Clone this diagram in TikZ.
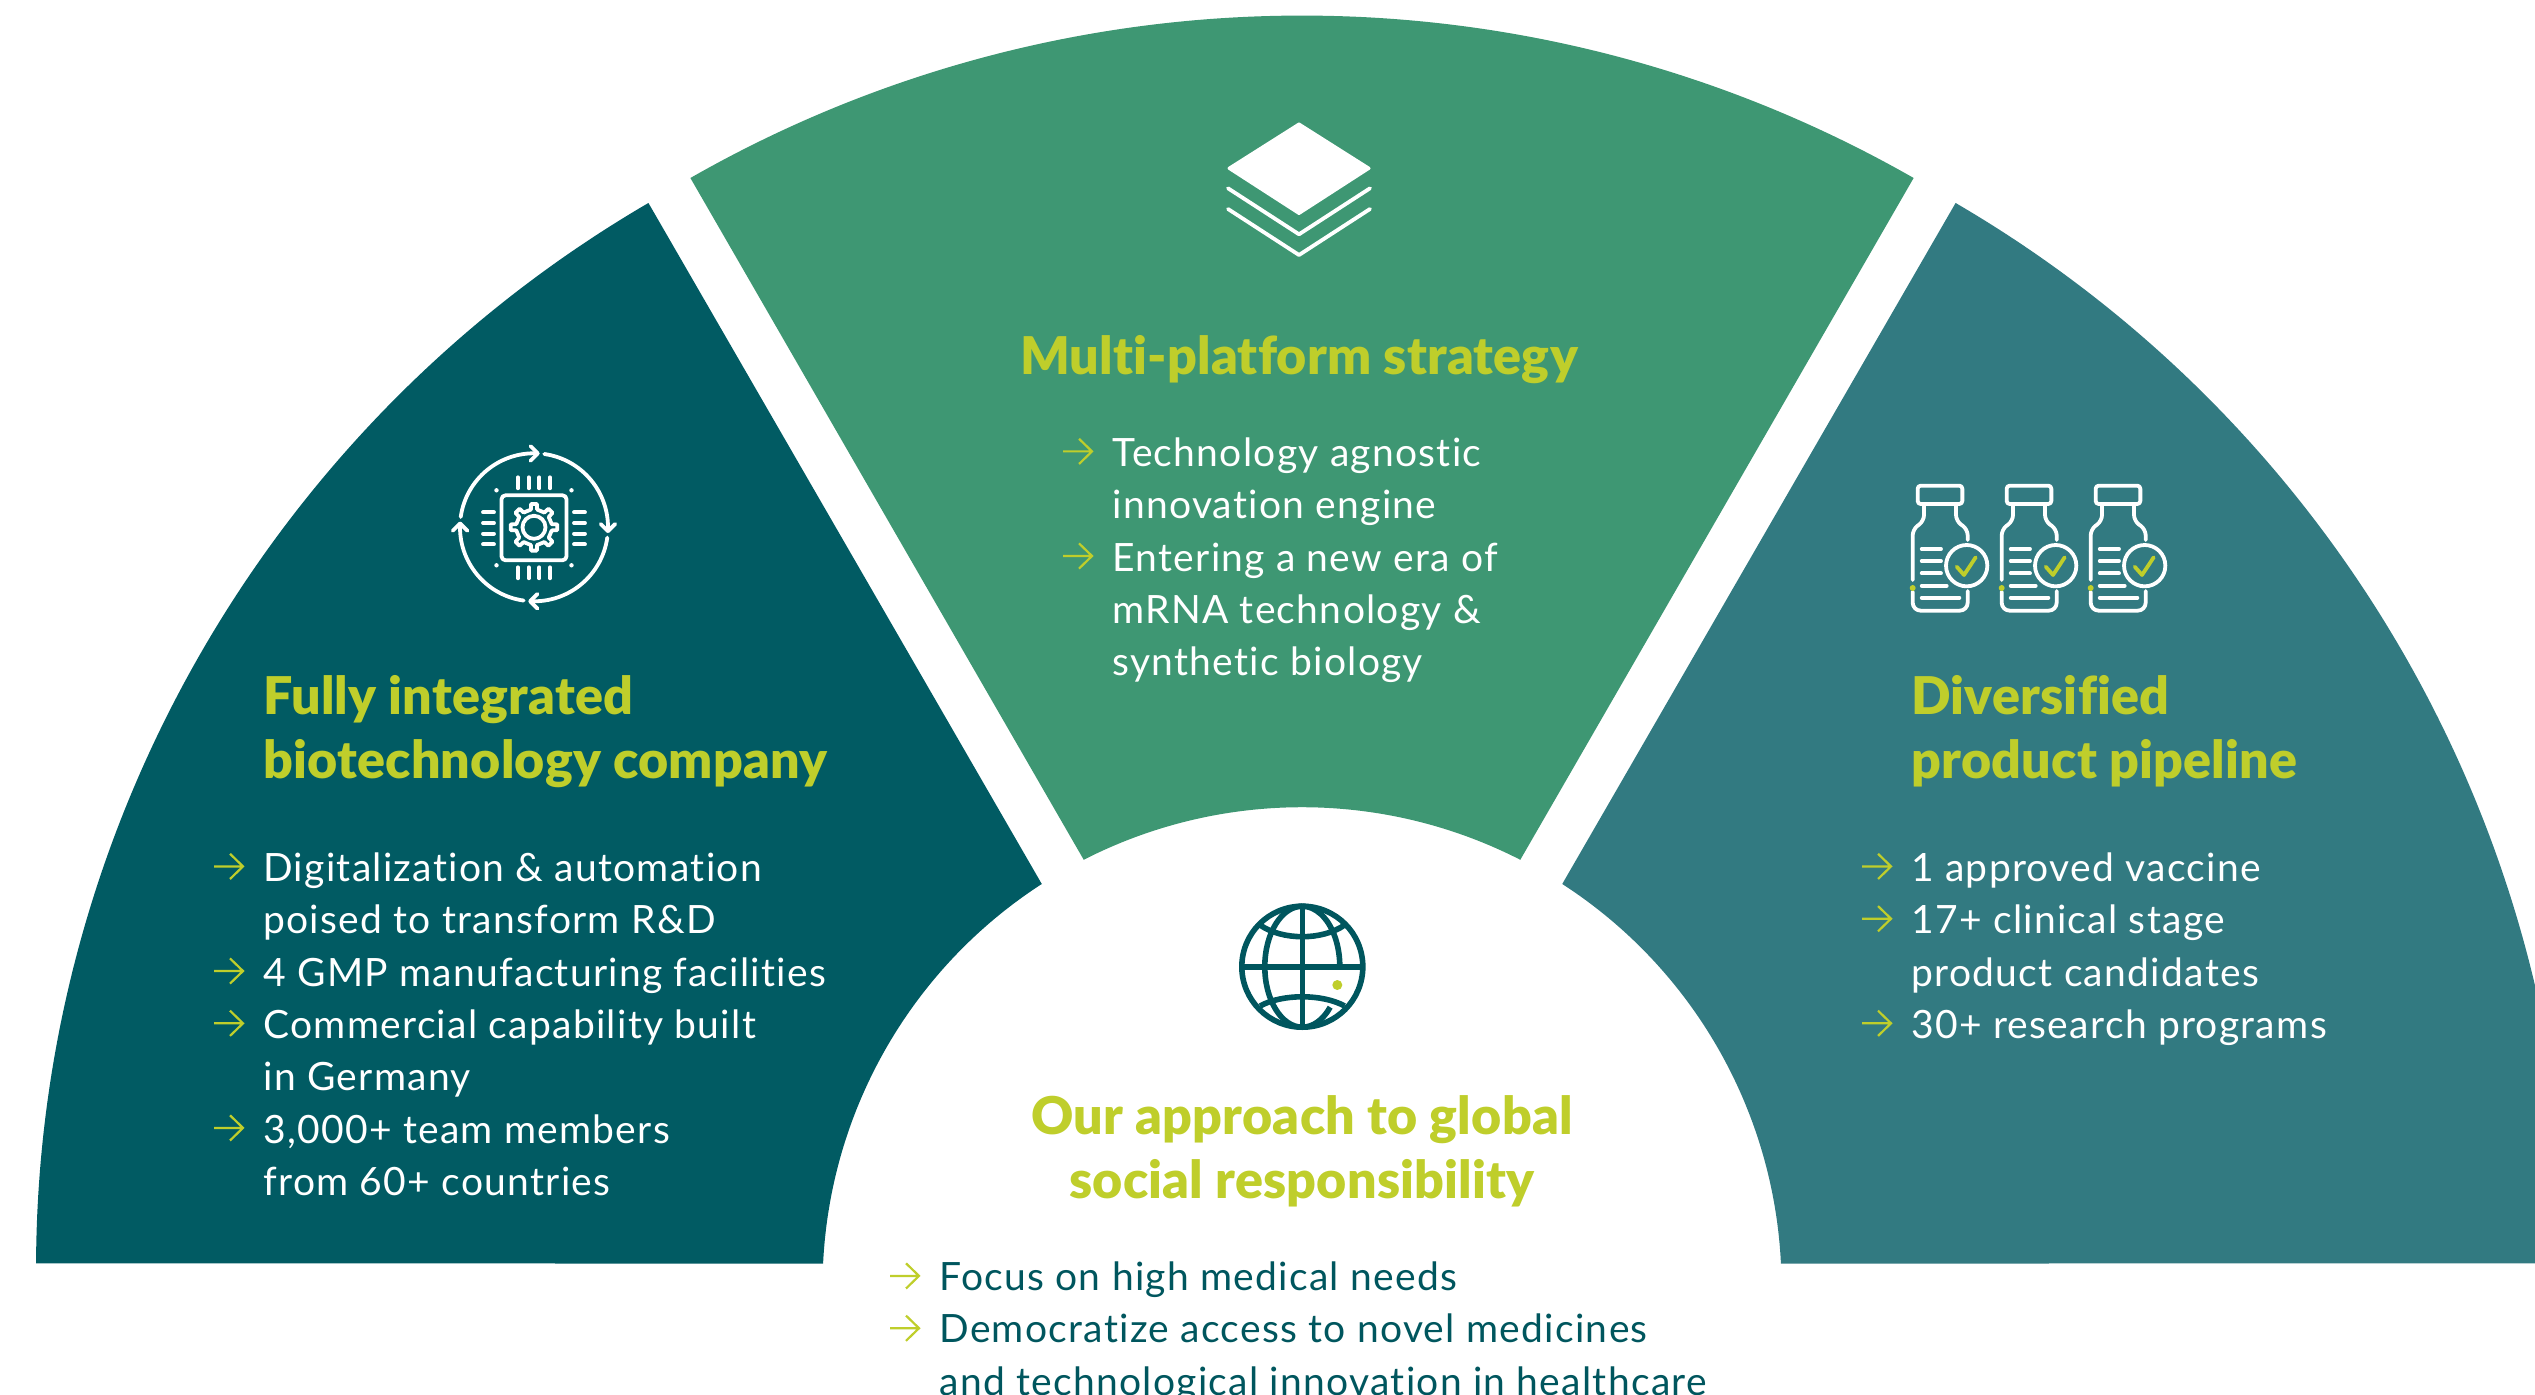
\documentclass[tikz,border=0pt]{standalone}
\usepackage{fontspec}
\usetikzlibrary{calc}
\setmainfont{Lato}[LetterSpace=3.3,Ligatures={NoCommon}]
\newfontfamily\headfont{Lato Black}[LetterSpace=0.4,Ligatures={NoCommon}]
\definecolor{tealdark}{HTML}{015B63}
\definecolor{greenmid}{HTML}{3E9773}
\definecolor{tealmid}{HTML}{327A81}
\definecolor{limeacc}{HTML}{BFCE2B}
\definecolor{inktext}{HTML}{00565E}
\tikzset{
  bodytext/.style={font=\fontsize{19.5}{26}\selectfont,anchor=base west,inner sep=0pt,white},
  inktxt/.style={bodytext,text=inktext},
  headtext/.style={font=\headfont\fontsize{26}{32}\selectfont,anchor=base west,inner sep=0pt,text=limeacc},
  headcenter/.style={headtext,anchor=base},
  icon/.style={draw=white,line width=1.9pt,line cap=round,line join=round},
  bulletarrow/.style={draw=limeacc,line width=1.1pt,line join=miter},
}
\newcommand{\lefttext}[1]{\vtop{\baselineskip=26.15pt\lineskiplimit=-100pt\halign{##\hfil\cr #1\crcr}}}
\newcommand{\headleft}[1]{\vtop{\baselineskip=32.4pt\lineskiplimit=-100pt\halign{##\hfil\cr #1\crcr}}}
\newcommand{\headmid}[1]{\vtop{\baselineskip=32.4pt\lineskiplimit=-100pt\halign{\hfil##\hfil\cr #1\crcr}}}
\newcommand{\bul}[3]{%
  \pgfmathsetmacro{\by}{-#2-#3*52.3+12.6}%
  \draw[bulletarrow] (#1,\by) -- ++(29,0) ++(-13,12.6) -- ++(13,-12.6) -- ++(-13,-12.6);}
\begin{document}
\begin{tikzpicture}[x=0.5pt,y=0.5pt]
\useasboundingbox (0,0) rectangle (2535,-1395);
\clip (0,0) rectangle (2535,-1395);
\coordinate (C) at (1302,-1286.7);
\coordinate (CL) at (1270.1,-1269);
\coordinate (CT) at (1302,-1248.1);
\coordinate (CR) at (1333.9,-1269);
% sectors
\fill[tealdark] ([shift={(CL)}]179.74:1234.1) arc[start angle=179.74,end angle=120.25,radius=1234.1]
  -- ([shift={(C)}]122.87:479.5) arc[start angle=122.87,end angle=177.23,radius=479.5] -- cycle;
\fill[greenmid] ([shift={(CT)}]119.75:1232.6) arc[start angle=119.75,end angle=60.25,radius=1232.6]
  -- ([shift={(C)}]62.92:479.5) arc[start angle=62.92,end angle=117.08,radius=479.5] -- cycle;
\fill[tealmid] ([shift={(CR)}]0.26:1234.1) arc[start angle=0.26,end angle=59.75,radius=1234.1]
  -- ([shift={(C)}]57.13:479.5) arc[start angle=57.13,end angle=2.77,radius=479.5] -- cycle;
% layers icon
\fill[white,draw=white,line width=1.5pt,line join=round] (1299,-124) -- (1369,-168.3) -- (1299,-213.5) -- (1229,-168.3) -- cycle;
\draw[icon] (1228,-188.3) -- (1299,-234.3) -- (1370,-188.3);
\draw[icon] (1228,-209) -- (1299,-255) -- (1370,-209);
% chip icon
\begin{scope}[shift={(534,-527.3)}]
  \foreach \r in {0,-90,-180,-270}{
    \begin{scope}[rotate=\r]
      \draw[icon] (172:74) arc[start angle=172,end angle=87,radius=74];
      \draw[icon] ($(87:74)+(-7.3,7.3)$) -- (87:74) -- ($(87:74)+(-7.3,-7.3)$);
    \end{scope}
  }
  \draw[icon,rounded corners=2pt] (-32.5,32) rectangle (32.5,-33);
  \foreach \d in {-16,-5.3,5.3,16}{
    \draw[icon] (\d,50) -- (\d,39);
    \draw[icon] (\d,-51) -- (\d,-40);
    \draw[icon] (-51,\d-1) -- (-40,\d-1);
    \draw[icon] (51,\d-1) -- (40,\d-1);
  }
  \foreach \a/\b in {-37.5/37,37.5/37,-37.5/-38,37.5/-38}
    \fill[white] (\a,\b) circle[radius=2.2];
  \foreach \a in {0,45,...,315}{
    \draw[icon] (\a-10:18) -- (\a-7:23.5) -- (\a+7:23.5) -- (\a+10:18) -- (\a+35:18);
  }
  \draw[icon] (0,0) circle[radius=11.5];
\end{scope}
% vial icons
\foreach \k in {0,1,2}{
  \begin{scope}[shift={(1880+\k*89,-460)},x=0.16667pt,y=-0.16667pt]
    \draw[icon,rounded corners=1.5pt] (113,77) rectangle (247,132);
    \draw[icon,rounded corners=3pt] (132,132) -- (132,183) -- (98,208) -- (98,360);
    \draw[icon,rounded corners=3pt] (263,240) -- (263,208) -- (228,183) -- (228,132);
    \draw[icon,rounded corners=4pt] (98,395) -- (98,452) -- (263,452) -- (263,393);
    \foreach \yy/\xx in {267/183,303/183,340/183,377/200,413/238}
      \draw[icon] (125,\yy) -- (\xx,\yy);
    \draw[icon] (260,317) circle[radius=62];
    \draw[icon,draw=limeacc] (230,320) -- (252,345) -- (287,292);
    \fill[limeacc] (98,384) circle[radius=9];
  \end{scope}
}
% globe icon
\begin{scope}[shift={(1302.3,-966.7)}]
  \tikzset{globe/.style={draw=inktext,line width=2.8pt,line cap=butt}}
  \draw[globe] (0,0) circle[radius=60.5];
  \draw[globe] (-60.5,0) -- (60.5,0);
  \draw[globe] (0,60.5) -- (0,-60.5);
  \draw[globe] (0,60.5) arc[start angle=90,end angle=270,x radius=37.5,y radius=60.5];
  \draw[globe] (0,60.5) arc[start angle=90,end angle=-2,x radius=37.5,y radius=60.5];
  \draw[globe] (0,-60.5) arc[start angle=-90,end angle=-42,x radius=37.5,y radius=60.5];
  \draw[globe] (-42.3,41.7) .. controls (-20,26.1) and (20,26.1) .. (42.3,41.7);
  \draw[globe] (-42.3,-39.3) .. controls (-20,-27) and (20,-27) .. (42.3,-39.3);
  \fill[limeacc] (35,-18.3) circle[radius=5];
\end{scope}
% left sector text
\node[headtext] (hleft) at (263,-714) {\headleft{Fully integrated\cr biotechnology company}};
\node[bodytext] (bleft) at (263,-881.5) {\lefttext{Digitalization \& automation\cr poised to transform R\&D\cr 4 GMP manufacturing facilities\cr Commercial capability built\cr in Germany\cr 3,000+ team members\cr from 60+ countries}};
\foreach \l in {0,2,3,5} {\bul{214}{879}{\l}}
% centre sector text
\node[headcenter] (hmid) at (1299,-375) {\headmid{Multi-platform strategy}};
\node[bodytext] (bmid) at (1112,-466.5) {\lefttext{Technology agnostic\cr innovation engine\cr Entering a new era of\cr mRNA technology \&\cr synthetic biology}};
\foreach \l in {0,2} {\bul{1063}{464}{\l}}
% right sector text
\node[headtext] (hright) at (1911,-714) {\headleft{Diversified\cr product pipeline}};
\node[bodytext] (bright) at (1911,-881.5) {\lefttext{1 approved vaccine\cr 17+ clinical stage\cr product candidates\cr 30+ research programs}};
\foreach \l in {0,1,3} {\bul{1862}{879}{\l}}
% bottom text
\node[headcenter] (hbot) at (1302,-1134) {\headmid{Our approach to global\cr social responsibility}};
\node[inktxt] (bbot) at (939,-1290.5) {\lefttext{Focus on high medical needs\cr Democratize access to novel medicines\cr and technological innovation in healthcare}};
\foreach \l in {0,1} {\bul{890}{1288.5}{\l}}
\end{tikzpicture}
\end{document}
